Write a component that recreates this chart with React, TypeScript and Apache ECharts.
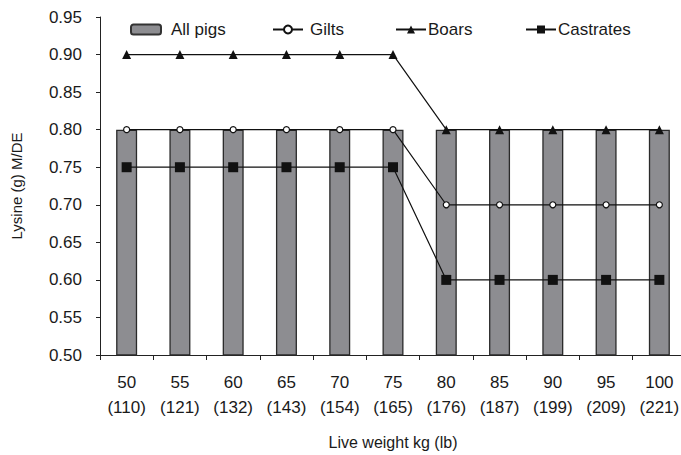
import React, { useEffect, useRef } from "react";
import * as echarts from "echarts";

const categories = ["50\n(110)", "55\n(121)", "60\n(132)", "65\n(143)", "70\n(154)", "75\n(165)", "80\n(176)", "85\n(187)", "90\n(199)", "95\n(209)", "100\n(221)"];
const allPigs = [0.8, 0.8, 0.8, 0.8, 0.8, 0.8, 0.8, 0.8, 0.8, 0.8, 0.8];
const gilts = [0.8, 0.8, 0.8, 0.8, 0.8, 0.8, 0.7, 0.7, 0.7, 0.7, 0.7];
const boars = [0.9, 0.9, 0.9, 0.9, 0.9, 0.9, 0.8, 0.8, 0.8, 0.8, 0.8];
const castrates = [0.75, 0.75, 0.75, 0.75, 0.75, 0.75, 0.6, 0.6, 0.6, 0.6, 0.6];

const FONT = "'Liberation Sans', Arial, sans-serif";
const TXT = "#1a1a1a";

export default function App() {
  const ref = useRef<HTMLDivElement>(null);
  useEffect(() => {
    if (!ref.current) return;
    const chart = echarts.init(ref.current, undefined, { renderer: "svg" });
    const legendBase = {
      top: 16,
      itemWidth: 30,
      itemHeight: 10,
      textStyle: { fontFamily: FONT, fontSize: 17, color: TXT },
      selectedMode: false,
    };
    chart.setOption({
      animation: false,
      backgroundColor: "#ffffff",
      legend: [
        {
          ...legendBase,
          left: 125,
          data: [{ name: "All pigs", itemStyle: { borderWidth: 2, borderColor: "#333" } }],
          textStyle: { ...legendBase.textStyle, padding: [0, 0, 0, 5] },
        },
        { ...legendBase, left: 267, data: ["Gilts"], textStyle: { ...legendBase.textStyle, padding: [0, 0, 0, 2] } },
        { ...legendBase, left: 390, data: ["Boars"], textStyle: { ...legendBase.textStyle, padding: [0, 0, 0, -3] } },
        { ...legendBase, left: 520, data: ["Castrates"], textStyle: { ...legendBase.textStyle, padding: [0, 0, 0, -3] } },
      ],
      grid: { left: 100, top: 17, bottom: 100, right: 0, containLabel: false },
      xAxis: {
        type: "category",
        data: categories,
        name: "Live weight kg (lb)",
        nameLocation: "middle",
        nameGap: 79,
        nameTextStyle: { fontFamily: FONT, fontSize: 16, color: TXT },
        axisLine: { lineStyle: { color: "#222", width: 1 } },
        axisTick: { show: true, length: 5, lineStyle: { color: "#222" } },
        axisLabel: { fontFamily: FONT, fontSize: 17, color: TXT, lineHeight: 25, margin: 15, interval: 0 },
      },
      yAxis: {
        type: "value",
        min: 0.5,
        max: 0.95,
        interval: 0.05,
        name: "Lysine (g) M/DE",
        nameLocation: "middle",
        nameGap: 76,
        nameRotate: 90,
        nameTextStyle: { fontFamily: FONT, fontSize: 15, color: TXT },
        splitLine: { show: false },
        axisLine: { show: true, lineStyle: { color: "#222", width: 1 } },
        axisTick: { show: true, length: 4, lineStyle: { color: "#222" } },
        axisLabel: { fontFamily: FONT, fontSize: 17, color: TXT, margin: 18, formatter: (v: number) => v.toFixed(2) },
      },
      series: [
        {
          name: "All pigs",
          type: "bar",
          data: allPigs,
          barWidth: 21,
          itemStyle: { color: "#8d8d91", borderColor: "#2a2a2a", borderWidth: 1.3 },
        },
        {
          name: "Gilts",
          type: "line",
          data: gilts,
          symbol: "circle",
          symbolSize: 6,
          lineStyle: { color: "#111", width: 1.2 },
          itemStyle: { color: "#ffffff", borderColor: "#111", borderWidth: 1.2 },
        },
        {
          name: "Boars",
          type: "line",
          data: boars,
          symbol: "triangle",
          symbolSize: 9,
          lineStyle: { color: "#111", width: 1.2 },
          itemStyle: { color: "#111", borderColor: "#111", borderWidth: 0 },
        },
        {
          name: "Castrates",
          type: "line",
          data: castrates,
          symbol: "rect",
          symbolSize: 10,
          lineStyle: { color: "#111", width: 1.2 },
          itemStyle: { color: "#111", borderColor: "#111", borderWidth: 0 },
        },
      ],
    });
    return () => chart.dispose();
  }, []);
  return (
    <div
      ref={ref}
      style={{ position: "fixed", left: 0, top: 0, width: 686, height: 455, background: "#fff" }}
    />
  );
}
